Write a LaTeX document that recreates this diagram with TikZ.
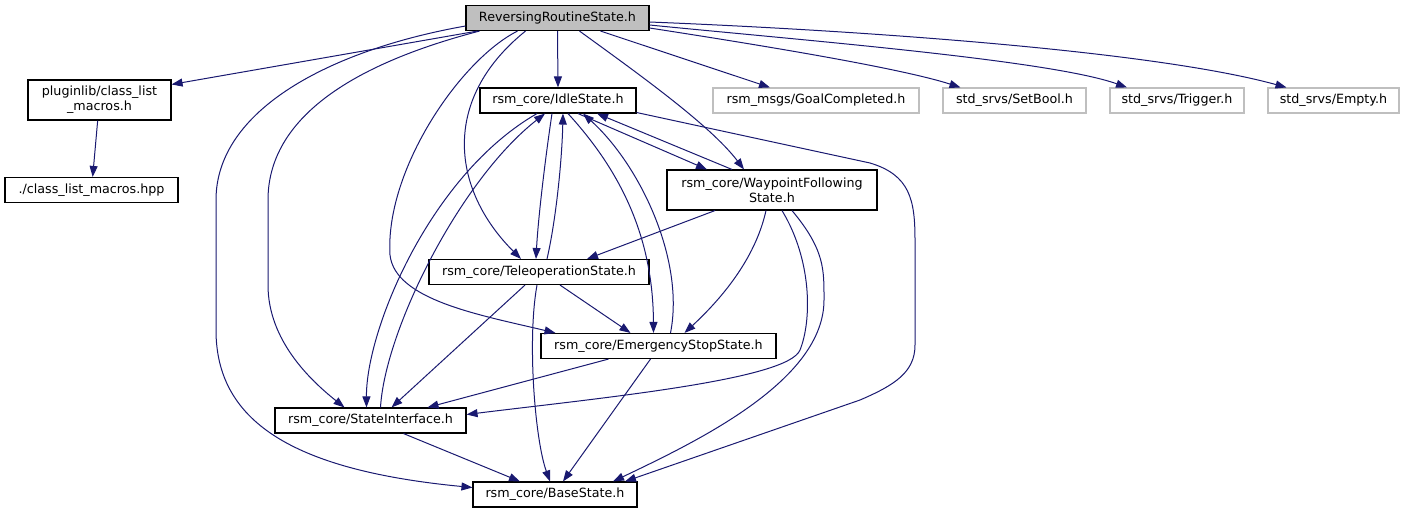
\documentclass[tikz,border=0pt]{standalone}
\usepackage{fontspec}
\setmainfont{DejaVu Sans}
\usetikzlibrary{arrows.meta}
\definecolor{edgeblue}{RGB}{25,25,112}
\definecolor{boxgray}{RGB}{191,191,191}

\begin{document}
\begin{tikzpicture}[x=1pt, y=-1pt,
    hbox/.style={draw=black, line width=1.1pt, fill=white, minimum height=25pt, inner sep=2pt,
        font=\fontsize{12.7}{15}\selectfont, align=center},
    extbox/.style={hbox, draw=boxgray},
    curbox/.style={hbox, fill=boxgray},
    incl/.style={draw=edgeblue, line width=1pt, -{Triangle[length=11pt, width=8pt]}}]
    \useasboundingbox (0,0) rectangle (1406,515);

    \node[curbox, minimum width=183] (rev) at (557.5,18) {ReversingRoutineState.h};
    \node[hbox, minimum width=143, minimum height=40] (plug) at (99.5,100) {pluginlib/class\_list\\\_macros.h};
    \node[hbox, minimum width=173] (hpp) at (91.5,190) {./class\_list\_macros.hpp};
    \node[hbox, minimum width=156] (idle) at (558,100.5) {rsm\_core/IdleState.h};
    \node[extbox, minimum width=206] (goal) at (816,100.5) {rsm\_msgs/GoalCompleted.h};
    \node[extbox, minimum width=143] (setbool) at (1014.5,100.5) {std\_srvs/SetBool.h};
    \node[extbox, minimum width=134] (trigger) at (1177,100.5) {std\_srvs/Trigger.h};
    \node[extbox, minimum width=131] (empty) at (1333.5,100.5) {std\_srvs/Empty.h};
    \node[hbox, minimum width=210, minimum height=40] (wp) at (772,190) {rsm\_core/WaypointFollowing\\State.h};
    \node[hbox, minimum width=220] (teleop) at (539,272) {rsm\_core/TeleoperationState.h};
    \node[hbox, minimum width=235] (es) at (658.5,346) {rsm\_core/EmergencyStopState.h};
    \node[hbox, minimum width=191] (si) at (370.5,420.5) {rsm\_core/StateInterface.h};
    \node[hbox, minimum width=164] (base) at (555,494.5) {rsm\_core/BaseState.h};

    % ReversingRoutineState.h
    \draw[incl] ([xshift=-80]rev.south) -- ([yshift=-5]plug.north east);
    \draw[incl] (rev.south) -- (idle.north);
    \draw[incl] ([xshift=43]rev.south) -- ([xshift=-46]goal.north);
    \draw[incl] ([yshift=-10]rev.east) .. controls (760,45) and (900,68) .. ([xshift=-54]setbool.north);
    \draw[incl] ([yshift=-7]rev.east) .. controls (800,40) and (1050,60) .. ([xshift=-50]trigger.north);
    \draw[incl] ([yshift=-4]rev.east) .. controls (850,30) and (1150,50) .. ([xshift=-47]empty.north);
    \draw[incl] ([xshift=22]rev.south) .. controls (640,75) and (710,125) .. ([xshift=-28]wp.north);
    \draw[incl] ([xshift=-32]rev.south) .. controls (440,100) and (452,190) .. ([xshift=-18]teleop.north);
    \draw[incl] ([xshift=-40]rev.south) .. controls (460,60) and (385,170) .. (390,255)
        .. controls (395,300) and (480,315) .. ([xshift=-103]es.north);
    \draw[incl] ([xshift=-78]rev.south) .. controls (330,70) and (268,130) .. (268,200) -- (268,285)
        .. controls (268,340) and (310,380) .. ([xshift=-26]si.north);
    \draw[incl] ([yshift=-8]rev.west) .. controls (330,50) and (216,110) .. (216,200) -- (216,330)
        .. controls (216,420) and (290,470) .. ([yshift=7]base.west);

    \draw[incl] (plug) -- (hpp);

    % IdleState.h
    \draw[incl] ([xshift=-6]idle.south) .. controls (545,160) and (538,220) .. ([xshift=-3]teleop.north);
    \draw[incl] ([xshift=-21]idle.south) .. controls (430,175) and (366,330) .. ([xshift=-4]si.north);
    \draw[incl] ([xshift=10]idle.south) .. controls (615,165) and (653,230) .. ([xshift=-5]es.north);
    \draw[incl] ([xshift=20]idle.south) -- ([xshift=-65]wp.north);
    \draw[incl] ([yshift=-12]idle.east) -- (870,163) .. controls (910,175) and (915,200) .. (915,240) -- (915,345)
        .. controls (915,372) and (895,385) .. (860,400) -- ([xshift=70]base.north);

    % back to IdleState.h
    \draw[incl] ([xshift=8]teleop.north) .. controls (556,220) and (562,160) .. ([xshift=5]idle.south);
    \draw[incl] ([xshift=10]si.north) .. controls (385,330) and (460,180) .. ([xshift=-13]idle.south);
    \draw[incl] ([xshift=12]es.north) .. controls (685,260) and (640,165) .. ([xshift=25]idle.south);
    \draw[incl] ([xshift=-40]wp.north) -- ([xshift=39]idle.south);

    % WaypointFollowingState.h
    \draw[incl] ([xshift=-57]wp.south) -- ([xshift=48]teleop.north);
    \draw[incl] ([xshift=-6]wp.south) .. controls (755,260) and (720,300) .. ([xshift=26]es.north);
    \draw[incl] ([xshift=10]wp.south) .. controls (812,260) and (812,320) .. (800,350)
        .. controls (788,380) and (600,398) .. ([yshift=6]si.east);
    \draw[incl] ([xshift=20]wp.south) .. controls (825,250) and (824,270) .. (824,300)
        .. controls (824,380) and (700,440) .. ([xshift=58]base.north);

    % TeleoperationState.h
    \draw[incl] ([xshift=-14]teleop.south) -- ([xshift=21]si.north);
    \draw[incl] ([xshift=21]teleop.south) -- ([xshift=-28]es.north);
    \draw[incl] ([xshift=-2]teleop.south) .. controls (527,340) and (535,440) .. ([xshift=-5]base.north);

    % EmergencyStopState.h
    \draw[incl] ([xshift=-50]es.south) -- ([xshift=57]si.north);
    \draw[incl] ([xshift=-8]es.south) -- ([xshift=8]base.north);

    \draw[incl] ([xshift=33]si.south) -- ([xshift=-35]base.north);
\end{tikzpicture}
\end{document}
